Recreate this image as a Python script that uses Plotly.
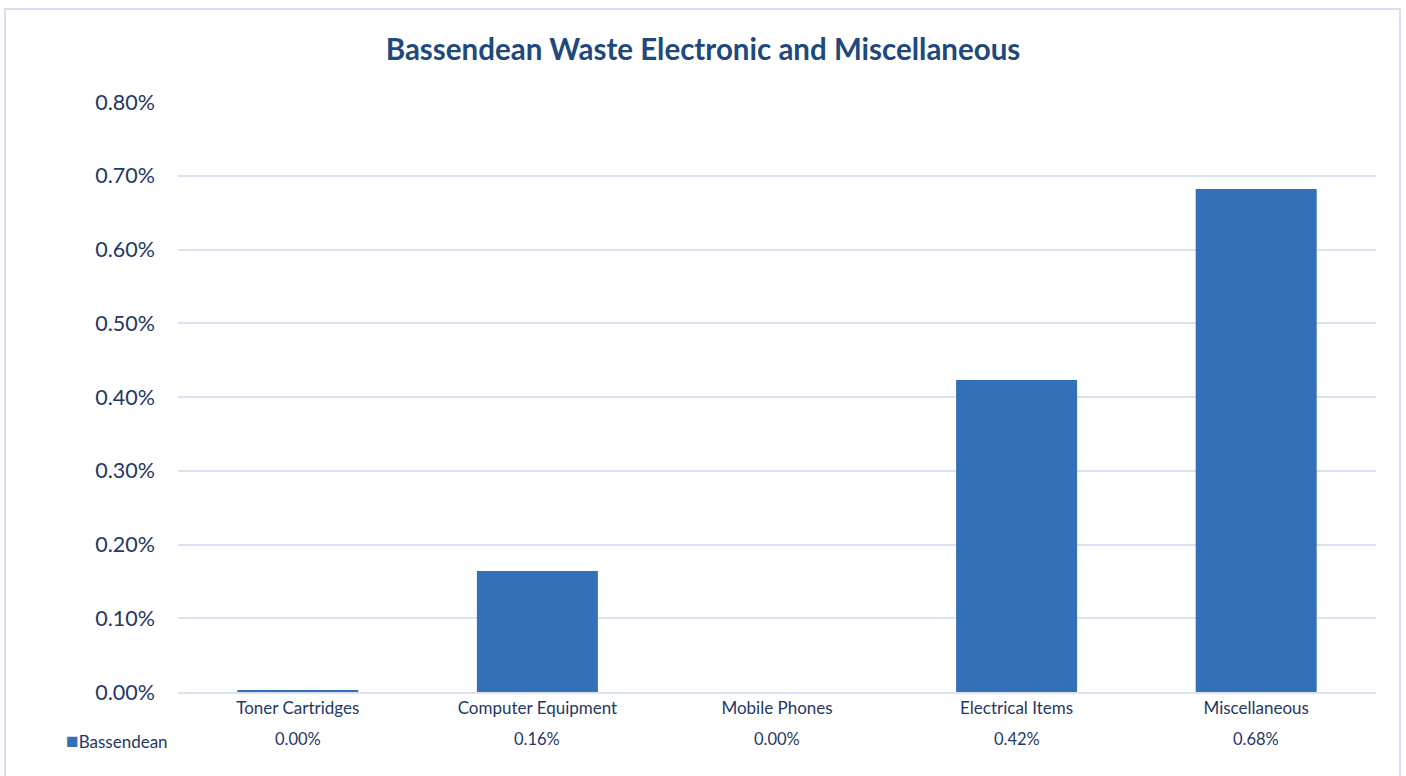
import plotly.graph_objects as go

categories = ["Toner Cartridges", "Computer Equipment", "Mobile Phones", "Electrical Items", "Miscellaneous"]
values = [0.00002, 0.00164, 0.0, 0.00423, 0.00682]
series_name = "Bassendean"
y_ticks = [0, 0.001, 0.002, 0.003, 0.004, 0.005, 0.006, 0.007, 0.008]

W, H = 1406, 776
L, T = 178, 102
R = W - 1376
B = H - 692
pw, ph = W - L - R, H - T - B

def px_x(x):
    return (x - L) / pw

def px_y(y):
    return (H - B - y) / ph

text_color = "#1F3864"
grid_color = "#D9E3F1"
bar_color = "#3470B7"
font = "Lato, Open Sans, sans-serif"

fig = go.Figure()
fig.add_trace(go.Bar(
    x=categories, y=values, name=series_name,
    marker=dict(color=bar_color, line=dict(width=0)),
    width=0.505, showlegend=False,
))

annotations = []
for c, v in zip(categories, values):
    annotations.append(dict(
        x=c, xref="x", y=px_y(739), yref="paper", text=f"{v*100:.2f}%",
        showarrow=False, font=dict(family=font, size=16.5, color=text_color),
        xanchor="center", yanchor="middle",
    ))
annotations.append(dict(
    x=px_x(64), xref="paper", y=px_y(739), yref="paper",
    text=f"<span style='color:{bar_color};font-size:21px'>■</span>{series_name}",
    showarrow=False, font=dict(family=font, size=17, color=text_color),
    xanchor="left", yanchor="middle",
))

fig.update_layout(
    width=W, height=H,
    margin=dict(l=L, r=R, t=T, b=B),
    paper_bgcolor="white", plot_bgcolor="white",
    title=dict(text="<b>Bassendean Waste Electronic and Miscellaneous</b>",
               x=703 / W, xref="container", xanchor="center",
               y=1 - 50 / H, yref="container", yanchor="middle",
               font=dict(family=font, size=29.5, color="#1F497D")),
    xaxis=dict(showgrid=False, showline=True, linecolor=grid_color, linewidth=1.5,
               tickfont=dict(family=font, size=17, color=text_color),
               ticks="", fixedrange=True),
    yaxis=dict(range=[0, 0.008], tickvals=y_ticks, tickformat=".2%",
               showgrid=True, gridcolor=grid_color, gridwidth=1.5,
               zeroline=False, showline=False,
               tickfont=dict(family=font, size=21.5, color=text_color),
               ticklabelstandoff=22),
    annotations=annotations,
    shapes=[dict(type="rect", xref="paper", yref="paper",
                 x0=px_x(5), x1=px_x(1400), y0=px_y(800), y1=px_y(9),
                 line=dict(color="#D6E0F0", width=2), fillcolor="rgba(0,0,0,0)",
                 layer="below")],
)

fig.write_html("out.html",
               config={"displayModeBar": False},
               post_script="document.body.style.margin='0';document.body.style.overflow='hidden';")
